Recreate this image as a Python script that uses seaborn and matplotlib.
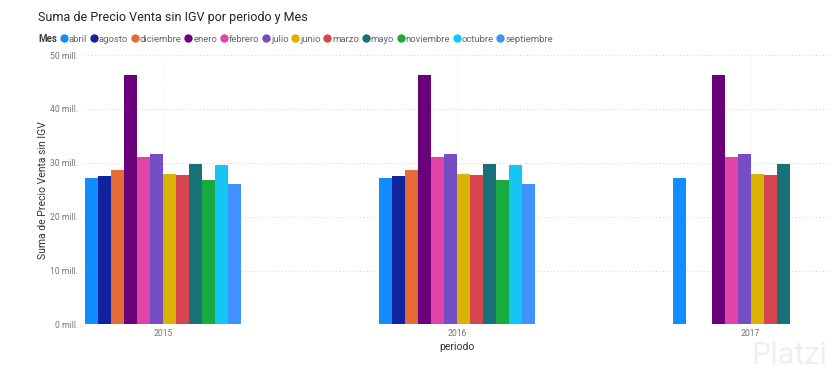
import numpy as np
import pandas as pd
import seaborn as sns
import matplotlib.pyplot as plt
from matplotlib.lines import Line2D

# datos (millones)
periodos = ['2015', '2016', '2017']
meses = ['abril', 'agosto', 'diciembre', 'enero', 'febrero', 'julio',
         'junio', 'marzo', 'mayo', 'noviembre', 'octubre', 'septiembre']
ventas_2015 = [27.2, 27.55, 28.6, 46.2, 31.0, 31.7, 28.0, 27.7, 29.8, 26.75, 29.65, 26.1]
ventas_2016 = [27.2, 27.55, 28.6, 46.2, 31.0, 31.7, 28.0, 27.7, 29.8, 26.75, 29.65, 26.1]
ventas_2017 = [27.2, np.nan, np.nan, 46.2, 31.0, 31.7, 28.0, 27.7, 29.8, np.nan, np.nan, np.nan]
colores = ['#118DFF', '#12239E', '#E66C37', '#6B007B', '#E044A7', '#744EC2',
           '#D9B300', '#D64550', '#197278', '#1AAB40', '#15C6F4', '#4092FF']

rows = []
for p, vals in zip(periodos, [ventas_2015, ventas_2016, ventas_2017]):
    for m, v in zip(meses, vals):
        rows.append({'periodo': p, 'Mes': m, 'ventas': v})
df = pd.DataFrame(rows).dropna()

sns.set_style('white')
plt.rcParams['font.family'] = ['Roboto', 'DejaVu Sans']

fig = plt.figure(figsize=(8.4, 3.88), dpi=100)
ax = fig.add_axes([0.1, 0.1637, 0.888, 0.6945])

sns.barplot(data=df, x='periodo', y='ventas', hue='Mes', order=periodos,
            hue_order=meses, palette=colores, saturation=1, width=0.53,
            errorbar=None, legend=False, ax=ax, linewidth=0)

ax.set_ylim(0, 50)
ax.set_xlim(-0.27, 2.27)
ax.set_yticks([0, 10, 20, 30, 40, 50])
ax.set_yticklabels([f'{v} mill.' for v in [0, 10, 20, 30, 40, 50]])
ax.set_axisbelow(True)
ax.grid(axis='y', linestyle=(0, (1, 2.5)), color='#D2D2D2', linewidth=0.7)
ax.grid(axis='x', linestyle=(0, (1, 2.5)), color='#E8E8E8', linewidth=0.7)
for s in ax.spines.values():
    s.set_visible(False)
ax.tick_params(axis='both', length=0, labelsize=6.2, labelcolor='#777777')
ax.tick_params(axis='y', pad=4)
ax.tick_params(axis='x', pad=3)
ax.set_ylabel('Suma de Precio Venta sin IGV', fontsize=7.5, color='#333333', labelpad=2)
ax.set_xlabel('periodo', fontsize=7.5, color='#333333', labelpad=3)

fig.text(38 / 840, 1 - 18 / 388, 'Suma de Precio Venta sin IGV por periodo y Mes',
         fontsize=9, color='#252423', va='center', ha='left')
fig.text(38 / 840, 1 - 39 / 388, 'Mes', fontsize=7, fontweight='bold',
         color='#444444', va='center', ha='left')

handles = [Line2D([], [], marker='o', linestyle='', markersize=5,
                  markerfacecolor=c, markeredgecolor=c) for c in colores]
fig.legend(handles, meses, loc='center left', bbox_to_anchor=(59 / 840, 1 - 39 / 388),
           ncol=12, frameon=False, fontsize=6.8, handletextpad=0.05,
           columnspacing=0.18, handlelength=1.0, borderpad=0, borderaxespad=0,
           labelcolor='#666666')

fig.text(0.985, 0.085, 'Platzi', fontsize=22, color='#EEF1EA', ha='right', va='center')

fig.savefig('out.png', dpi=100)
